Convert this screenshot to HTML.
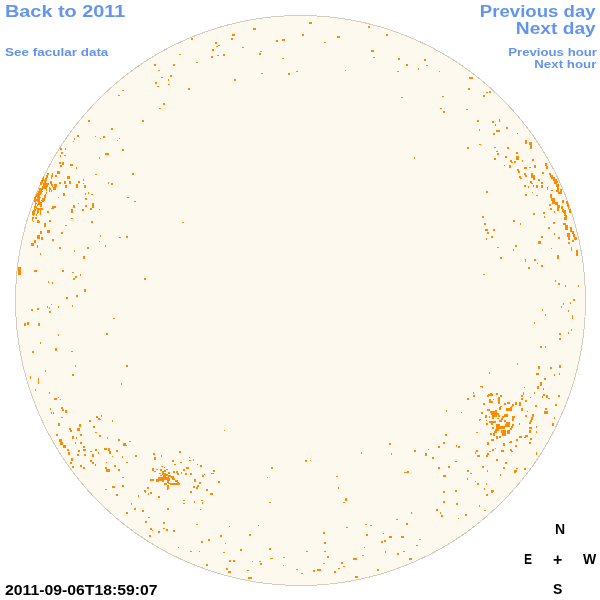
<!DOCTYPE html>
<html><head><meta charset="utf-8">
<style>
html,body{margin:0;padding:0;background:#fff;width:600px;height:600px;overflow:hidden;}
body{position:relative;font-family:"Liberation Sans",sans-serif;font-weight:bold;}
.t{position:absolute;white-space:nowrap;line-height:1;will-change:transform;}
.b{color:#6495ed;}
.k{color:#000;}
svg{position:absolute;left:0;top:0;}
</style></head><body>
<svg width="600" height="600" viewBox="0 0 600 600">
<circle cx="300.5" cy="300.5" r="285" fill="#fef9ee" stroke="#d3cdc1" stroke-width="1" shape-rendering="crispEdges"/>
<path fill="#ff8c00" shape-rendering="crispEdges" d="M191 38h2v2h-2zM179 54h2v1h-2zM196 62h2v1h-2zM154 64h2v2h-2zM173 64h2v2h-2zM158 70h2v1h-2zM170 75h2v2h-2zM161 77h2v1h-2zM168 79h1v2h-1zM155 82h2v2h-2zM168 84h2v1h-2zM157 86h2v1h-2zM188 88h2v2h-2zM122 90h2v1h-2zM118 95h2v1h-2zM253 28h3v2h-3zM232 34h3v2h-3zM231 38h2v2h-2zM276 40h2v2h-2zM282 39h3v2h-3zM215 42h2v2h-2zM218 45h2v1h-2zM216 46h2v1h-2zM242 47h2v1h-2zM212 49h2v2h-2zM260 51h2v1h-2zM259 53h2v2h-2zM217 55h2v1h-2zM223 54h2v2h-2zM211 56h2v2h-2zM282 58h2v1h-2zM261 73h2v1h-2zM288 73h2v2h-2zM296 71h2v1h-2zM234 79h2v2h-2zM309 22h3v2h-3zM302 34h2v2h-2zM337 36h3v2h-3zM324 42h2v1h-2zM368 26h2v2h-2zM386 34h2v2h-2zM371 50h3v2h-3zM373 57h2v1h-2zM398 58h2v2h-2zM345 70h1v1h-1zM397 71h2v1h-2zM406 64h2v2h-2zM424 59h2v2h-2zM426 65h2v1h-2zM418 68h1v2h-1zM439 71h1v1h-1zM469 77h4v2h-4zM468 88h2v2h-2zM489 91h2v2h-2zM486 92h2v1h-2zM483 95h2v2h-2zM442 96h2v1h-2zM401 97h2v1h-2zM88 120h2v2h-2zM95 136h1v1h-1zM77 135h2v2h-2zM74 138h1v2h-1zM73 141h1v1h-1zM60 148h2v2h-2zM65 148h1v2h-1zM61 152h2v2h-2zM60 155h1v2h-1zM64 155h2v1h-2zM99 157h1v2h-1zM59 162h2v2h-2zM62 162h2v3h-2zM60 165h2v2h-2zM70 164h3v2h-3zM76 167h1v2h-1zM57 171h3v3h-3zM95 174h2v1h-2zM55 175h2v2h-2zM67 176h3v3h-3zM83 179h1v2h-1zM64 181h2v3h-2zM69 181h2v3h-2zM78 181h2v2h-2zM83 183h1v1h-1zM59 182h2v2h-2zM65 185h2v3h-2zM76 184h2v4h-2zM84 185h2v3h-2zM47 173h2v1h-2zM52 173h1v1h-1zM47 174h2v1h-2zM52 174h1v1h-1zM46 175h2v1h-2zM51 175h2v1h-2zM43 176h1v1h-1zM46 176h2v1h-2zM51 176h2v1h-2zM43 177h1v1h-1zM46 177h2v1h-2zM51 177h1v1h-1zM42 178h2v1h-2zM45 178h2v1h-2zM51 178h1v1h-1zM42 179h2v1h-2zM45 179h2v1h-2zM41 180h6v1h-6zM41 181h2v1h-2zM44 181h2v1h-2zM50 181h2v1h-2zM40 182h3v1h-3zM44 182h2v1h-2zM50 182h2v1h-2zM40 183h2v1h-2zM43 183h6v1h-6zM50 183h2v1h-2zM40 184h2v1h-2zM43 184h6v1h-6zM51 184h2v1h-2zM54 184h1v1h-1zM51 185h2v1h-2zM54 185h1v1h-1zM42 186h6v1h-6zM52 186h1v1h-1zM54 186h1v1h-1zM49 187h1v1h-1zM53 187h2v1h-2zM39 188h7v1h-7zM46 188h1v1h-1zM49 188h2v1h-2zM53 188h2v1h-2zM46 189h1v1h-1zM49 189h2v1h-2zM53 189h1v1h-1zM49 190h1v1h-1zM51 190h1v1h-1zM38 191h5v1h-5zM49 191h1v1h-1zM51 191h1v1h-1zM38 192h4v1h-4zM46 192h1v1h-1zM37 193h5v1h-5zM46 193h1v1h-1zM36 194h5v1h-5zM45 194h1v1h-1zM36 195h4v1h-4zM44 195h2v1h-2zM35 196h5v1h-5zM44 196h2v1h-2zM34 197h2v1h-2zM37 197h4v1h-4zM44 197h2v1h-2zM34 198h2v1h-2zM37 198h3v1h-3zM42 198h3v1h-3zM34 199h6v1h-6zM42 199h3v1h-3zM34 200h6v1h-6zM41 200h4v1h-4zM34 201h2v1h-2zM37 201h3v1h-3zM42 201h2v1h-2zM35 202h1v1h-1zM38 202h4v1h-4zM35 203h2v1h-2zM38 203h4v1h-4zM35 204h1v1h-1zM37 204h3v1h-3zM40 204h2v1h-2zM35 205h1v1h-1zM37 205h1v1h-1zM40 205h2v1h-2zM34 206h3v1h-3zM40 206h2v1h-2zM34 207h3v1h-3zM34 208h1v1h-1zM36 208h7v1h-7zM34 209h2v1h-2zM37 209h6v1h-6zM33 210h3v1h-3zM37 210h2v1h-2zM40 210h1v1h-1zM32 211h3v1h-3zM37 211h2v1h-2zM40 211h1v1h-1zM47 211h2v1h-2zM32 212h3v1h-3zM37 212h2v1h-2zM40 212h1v1h-1zM47 212h2v1h-2zM32 213h3v1h-3zM37 213h1v1h-1zM40 213h1v1h-1zM32 214h3v1h-3zM36 214h1v1h-1zM40 214h1v1h-1zM33 215h1v1h-1zM36 215h1v1h-1zM32 217h2v1h-2zM35 217h2v1h-2zM32 218h2v1h-2zM35 218h2v1h-2zM32 219h1v1h-1zM32 220h1v1h-1zM37 220h2v1h-2zM49 220h1v1h-1zM73 205h2v3h-2zM78 203h1v1h-1zM71 209h2v4h-2zM85 205h2v2h-2zM82 209h2v2h-2zM92 203h2v5h-2zM90 208h2v2h-2zM71 218h2v1h-2zM49 220h2v2h-2zM44 223h2v4h-2zM37 221h3v2h-3zM33 221h1v1h-1zM65 225h2v1h-2zM91 221h2v2h-2zM47 230h3v3h-3zM61 232h2v2h-2zM40 231h2v3h-2zM37 235h3v4h-3zM41 237h2v3h-2zM52 239h2v2h-2zM34 240h2v3h-2zM31 243h3v3h-3zM37 245h1v3h-1zM59 247h2v2h-2zM74 250h1v2h-1zM87 247h2v2h-2zM99 241h1v1h-1zM40 253h1v2h-1zM83 256h2v3h-2zM18 267h3v8h-3zM34 270h3v2h-3zM62 270h2v2h-2zM72 272h2v1h-2zM75 276h2v2h-2zM73 278h2v2h-2zM80 274h1v2h-1zM48 281h1v2h-1zM52 282h1v2h-1zM84 289h2v3h-2zM76 295h2v2h-2zM66 297h2v2h-2zM55 184h2v3h-2zM54 187h2v3h-2zM63 193h2v3h-2zM58 197h1v1h-1zM85 193h1v2h-1zM88 192h1v2h-1zM91 194h2v1h-2zM85 198h2v2h-2zM52 206h4v2h-4zM51 208h3v1h-3zM99 209h1v1h-1zM163 103h2v2h-2zM159 108h2v1h-2zM142 120h2v2h-2zM111 128h2v2h-2zM103 136h2v2h-2zM100 138h1v1h-1zM119 138h1v1h-1zM117 140h1v1h-1zM122 149h2v2h-2zM105 153h4v2h-4zM132 173h2v2h-2zM108 182h1v2h-1zM111 183h2v2h-2zM127 197h2v1h-2zM440 108h2v1h-2zM443 111h2v2h-2zM466 109h2v1h-2zM477 120h2v2h-2zM492 121h2v2h-2zM499 119h1v3h-1zM495 124h1v2h-1zM479 129h1v2h-1zM496 130h4v2h-4zM493 133h2v2h-2zM479 144h2v1h-2zM467 147h2v2h-2zM494 147h2v1h-2zM496 151h2v1h-2zM497 153h2v2h-2zM494 158h2v2h-2zM414 157h1v2h-1zM486 191h2v2h-2zM506 127h2v2h-2zM517 133h1v1h-1zM525 140h2v4h-2zM529 142h3v3h-3zM530 145h2v4h-2zM507 147h2v2h-2zM516 152h2v2h-2zM516 156h3v4h-3zM505 156h2v2h-2zM510 160h2v2h-2zM511 162h2v1h-2zM514 161h2v2h-2zM522 160h1v2h-1zM532 159h2v2h-2zM504 165h1v1h-1zM509 165h2v3h-2zM517 169h2v2h-2zM518 171h2v2h-2zM524 167h3v2h-3zM529 167h2v1h-2zM534 165h2v3h-2zM545 163h2v3h-2zM546 166h2v3h-2zM524 173h2v2h-2zM525 175h2v2h-2zM519 176h2v2h-2zM520 178h2v1h-2zM531 173h2v2h-2zM531 175h4v3h-4zM533 178h2v2h-2zM542 172h2v2h-2zM549 173h2v2h-2zM550 175h3v2h-3zM551 177h4v2h-4zM553 179h4v2h-4zM554 181h4v2h-4zM554 183h3v1h-3zM538 179h2v2h-2zM530 181h2v2h-2zM531 183h2v1h-2zM541 182h2v2h-2zM524 185h2v2h-2zM528 186h1v2h-1zM533 185h1v2h-1zM536 185h2v3h-2zM541 185h2v3h-2zM547 187h1v3h-1zM556 184h3v3h-3zM557 187h2v3h-2zM556 190h3v2h-3zM558 192h2v2h-2zM560 189h2v3h-2zM551 190h2v1h-2zM532 192h1v1h-1zM525 194h2v2h-2zM536 195h2v1h-2zM560 192h2v2h-2zM550 194h2v4h-2zM551 198h4v3h-4zM552 201h3v3h-3zM549 204h2v2h-2zM555 202h3v3h-3zM557 205h3v3h-3zM550 208h2v2h-2zM557 208h2v3h-2zM554 211h1v2h-1zM561 206h2v3h-2zM562 209h2v3h-2zM563 210h3v3h-3zM564 213h2v3h-2zM565 215h2v2h-2zM564 217h3v3h-3zM562 200h2v3h-2zM566 201h2v3h-2zM567 204h2v3h-2zM568 207h1v2h-1zM569 209h2v4h-2zM543 212h2v2h-2zM544 216h1v2h-1zM553 222h2v2h-2zM563 223h3v2h-3zM565 225h3v5h-3zM548 227h2v2h-2zM570 227h2v5h-2zM567 233h3v4h-3zM572 231h2v3h-2zM573 234h2v3h-2zM574 237h3v3h-3zM568 237h2v3h-2zM554 233h1v2h-1zM541 236h2v2h-2zM558 237h2v2h-2zM533 213h2v2h-2zM513 220h2v2h-2zM520 223h1v2h-1zM538 241h3v3h-3zM515 245h2v2h-2zM513 249h1v2h-1zM551 248h1v1h-1zM500 257h2v2h-2zM525 259h1v3h-1zM534 259h2v2h-2zM537 263h1v1h-1zM541 265h2v2h-2zM528 267h2v2h-2zM557 255h2v4h-2zM568 242h2v2h-2zM572 240h2v2h-2zM571 247h1v4h-1zM576 250h2v6h-2zM555 280h1v2h-1zM558 283h2v2h-2zM565 285h1v2h-1zM578 285h1v2h-1zM573 299h2v1h-2zM134 201h2v1h-2zM182 222h2v1h-2zM100 235h1v2h-1zM119 237h2v1h-2zM126 236h2v2h-2zM105 245h1v2h-1zM144 278h2v2h-2zM224 430h1v1h-1zM482 216h2v2h-2zM484 223h2v2h-2zM485 229h3v2h-3zM487 232h2v2h-2zM493 229h2v2h-2zM491 236h2v2h-2zM486 238h1v2h-1zM497 247h2v1h-2zM483 274h2v1h-2zM573 299h2v2h-2zM570 302h1v2h-1zM563 303h1v2h-1zM561 306h1v2h-1zM542 309h1v2h-1zM568 310h1v2h-1zM545 314h1v2h-1zM572 315h1v4h-1zM534 322h1v2h-1zM571 329h1v2h-1zM568 332h1v2h-1zM559 333h2v2h-2zM559 338h2v2h-2zM540 346h2v2h-2zM545 346h1v2h-1zM517 363h1v2h-1zM538 366h2v3h-2zM550 367h2v2h-2zM559 365h2v3h-2zM536 373h3v2h-3zM554 374h1v2h-1zM559 373h1v2h-1zM544 378h2v2h-2zM524 387h1v1h-1zM543 388h1v2h-1zM489 372h1v2h-1zM480 386h3v1h-3zM482 387h1v1h-1zM473 392h1v2h-1zM473 395h2v2h-2zM467 398h2v2h-2zM490 393h2v1h-2zM488 394h5v2h-5zM487 395h2v2h-2zM496 393h2v2h-2zM500 395h2v2h-2zM489 399h2v2h-2zM489 401h4v2h-4zM493 399h1v1h-1zM498 397h2v7h-2zM483 403h2v2h-2zM504 403h2v2h-2zM507 402h3v2h-3zM500 406h2v1h-2zM499 407h2v3h-2zM506 408h4v3h-4zM487 409h3v2h-3zM481 412h2v2h-2zM461 412h1v1h-1zM495 410h2v2h-2zM490 411h7v2h-7zM491 413h8v2h-8zM492 415h5v2h-5zM485 415h2v3h-2zM489 416h1v2h-1zM492 416h2v3h-2zM498 415h2v2h-2zM504 414h4v3h-4zM502 416h2v2h-2zM479 419h2v1h-2zM497 418h2v1h-2zM501 418h2v2h-2zM540 382h2v4h-2zM537 386h2v3h-2zM523 392h1v3h-1zM534 392h1v2h-1zM521 395h2v2h-2zM530 397h1v1h-1zM543 394h2v2h-2zM542 396h1v2h-1zM546 395h2v3h-2zM548 398h2v1h-2zM558 395h2v2h-2zM521 398h2v2h-2zM525 400h2v2h-2zM515 402h2v3h-2zM519 402h2v4h-2zM512 404h2v2h-2zM511 406h2v1h-2zM510 407h2v4h-2zM535 405h2v2h-2zM555 404h2v2h-2zM521 408h2v3h-2zM527 411h1v1h-1zM545 408h2v2h-2zM544 411h4v3h-4zM525 415h2v2h-2zM532 414h2v3h-2zM531 417h2v3h-2zM512 416h3v2h-3zM512 418h2v2h-2zM554 417h1v2h-1zM479 420h1v1h-1zM486 420h1v1h-1zM489 421h7v2h-7zM491 423h2v2h-2zM486 423h2v2h-2zM499 420h3v2h-3zM504 420h2v2h-2zM496 424h4v2h-4zM496 426h9v3h-9zM505 424h5v3h-5zM506 422h4v3h-4zM495 429h4v2h-4zM494 431h3v2h-3zM493 433h2v2h-2zM501 430h5v3h-5zM502 433h4v3h-4zM507 430h3v4h-3zM499 436h2v2h-2zM496 436h2v3h-2zM492 427h2v2h-2zM490 433h2v2h-2zM493 434h2v2h-2zM491 439h3v2h-3zM476 432h2v1h-2zM487 442h2v3h-2zM503 443h2v3h-2zM509 442h1v1h-1zM492 449h2v2h-2zM495 448h1v1h-1zM489 451h2v1h-2zM501 450h3v2h-3zM487 453h2v2h-2zM486 455h2v2h-2zM476 450h2v2h-2zM475 452h1v2h-1zM477 455h3v2h-3zM496 459h2v2h-2zM505 462h2v2h-2zM482 466h2v2h-2zM503 467h2v2h-2zM512 420h2v1h-2zM530 420h2v2h-2zM529 422h2v2h-2zM519 423h1v2h-1zM512 424h2v2h-2zM511 426h2v2h-2zM510 428h2v2h-2zM552 423h2v3h-2zM529 427h3v2h-3zM536 426h1v2h-1zM529 430h2v3h-2zM536 431h1v2h-1zM519 436h3v2h-3zM525 435h3v2h-3zM524 437h2v1h-2zM516 439h2v2h-2zM530 438h2v2h-2zM510 441h2v2h-2zM529 442h2v2h-2zM515 445h2v2h-2zM510 449h2v2h-2zM511 451h2v1h-2zM536 452h1v3h-1zM516 468h2v1h-2zM524 468h2v2h-2zM31 309h2v2h-2zM37 308h2v2h-2zM47 306h1v2h-1zM49 307h1v2h-1zM51 304h1v1h-1zM49 311h2v2h-2zM58 306h1v2h-1zM72 305h1v2h-1zM24 323h2v3h-2zM27 322h2v3h-2zM38 323h2v3h-2zM58 334h1v2h-1zM40 342h1v2h-1zM32 351h2v2h-2zM55 348h2v3h-2zM71 351h2v1h-2zM75 365h1v2h-1zM45 370h1v2h-1zM72 374h2v2h-2zM30 376h1v3h-1zM38 378h1v6h-1zM35 389h1v2h-1zM49 392h1v2h-1zM113 318h2v1h-2zM106 333h2v2h-2zM126 365h2v2h-2zM121 383h1v2h-1zM54 398h3v2h-3zM58 397h1v1h-1zM60 399h1v1h-1zM50 408h1v2h-1zM51 412h1v2h-1zM53 412h1v2h-1zM61 407h2v2h-2zM62 409h2v2h-2zM65 410h2v3h-2zM61 417h2v1h-2zM58 423h2v3h-2zM69 428h2v2h-2zM70 430h2v2h-2zM77 428h3v3h-3zM79 424h2v3h-2zM80 434h2v2h-2zM89 420h2v2h-2zM93 426h2v2h-2zM96 416h2v2h-2zM98 418h2v2h-2zM100 419h1v1h-1zM101 415h1v2h-1zM112 420h1v2h-1zM95 432h2v1h-2zM99 435h2v2h-2zM107 437h1v2h-1zM118 439h2v2h-2zM56 434h2v2h-2zM72 436h2v3h-2zM76 437h1v2h-1zM59 439h3v3h-3zM60 442h3v3h-3zM63 445h3v3h-3zM75 442h1v2h-1zM80 442h2v2h-2zM83 446h2v2h-2zM83 449h3v2h-3zM78 450h2v2h-2zM67 449h2v2h-2zM68 452h2v3h-2zM77 454h2v2h-2zM84 454h2v2h-2zM90 451h2v1h-2zM95 449h2v2h-2zM98 452h1v2h-1zM104 448h3v2h-3zM108 448h2v3h-2zM109 451h2v3h-2zM116 450h2v2h-2zM112 456h1v1h-1zM92 454h2v3h-2zM90 460h2v2h-2zM92 462h2v2h-2zM106 462h1v1h-1zM71 458h2v3h-2zM70 462h2v2h-2zM72 466h2v2h-2zM80 465h2v2h-2zM83 467h2v2h-2zM95 464h1v2h-1zM114 465h2v2h-2zM105 467h2v2h-2zM106 469h4v3h-4zM118 469h2v2h-2zM112 486h3v2h-3zM105 489h2v1h-2zM172 460h2v2h-2zM174 464h2v1h-2zM161 466h2v1h-2zM164 467h1v1h-1zM152 468h2v3h-2zM156 469h2v1h-2zM154 471h2v1h-2zM160 469h2v2h-2zM166 469h2v1h-2zM164 470h2v2h-2zM162 471h2v2h-2zM168 472h2v2h-2zM159 473h2v1h-2zM173 471h2v2h-2zM176 471h2v2h-2zM177 473h2v2h-2zM162 473h4v2h-4zM163 475h3v2h-3zM166 474h2v2h-2zM160 475h2v1h-2zM168 475h3v2h-3zM171 476h3v2h-3zM158 477h4v2h-4zM162 477h7v3h-7zM168 478h2v3h-2zM172 478h3v2h-3zM175 480h3v2h-3zM177 482h2v1h-2zM156 479h3v3h-3zM159 479h3v2h-3zM162 480h2v2h-2zM150 479h4v2h-4zM167 480h2v3h-2zM164 483h3v2h-3zM168 483h12v1h-12zM170 484h10v1h-10zM167 485h2v4h-2zM167 489h1v1h-1zM147 487h2v2h-2zM145 491h1v2h-1zM148 493h1v2h-1zM150 492h2v2h-2zM123 443h3v2h-3zM123 445h4v1h-4zM129 441h2v1h-2zM122 456h1v2h-1zM135 455h2v2h-2zM126 462h2v1h-2zM153 453h2v2h-2zM154 457h2v3h-2zM161 455h1v2h-1zM179 451h2v2h-2zM180 462h2v1h-2zM189 457h1v1h-1zM193 459h1v2h-1zM189 460h2v1h-2zM197 464h1v1h-1zM200 465h2v2h-2zM186 467h3v2h-3zM183 469h2v2h-2zM185 473h2v2h-2zM190 473h2v2h-2zM181 472h1v2h-1zM202 475h2v2h-2zM213 470h2v2h-2zM211 473h3v1h-3zM194 479h2v3h-2zM199 482h2v2h-2zM197 485h2v2h-2zM196 487h2v2h-2zM193 486h2v2h-2zM218 481h2v2h-2zM206 489h2v2h-2zM190 491h2v2h-2zM210 493h3v2h-3zM158 496h2v2h-2zM144 490h2v2h-2zM138 495h1v2h-1zM122 477h2v1h-2zM122 485h2v2h-2zM204 474h1v1h-1zM201 500h2v1h-2zM202 502h1v2h-1zM200 509h1v1h-1zM271 467h2v2h-2zM267 477h1v1h-1zM269 502h2v1h-2zM229 526h1v1h-1zM258 525h1v1h-1zM220 535h2v2h-2zM249 534h2v2h-2zM208 539h2v1h-2zM116 494h2v2h-2zM183 500h2v1h-2zM183 503h2v1h-2zM194 501h1v2h-1zM131 503h1v2h-1zM134 508h2v2h-2zM142 510h2v2h-2zM126 512h2v2h-2zM167 508h2v2h-2zM148 517h2v1h-2zM145 521h2v2h-2zM163 522h2v2h-2zM196 524h2v1h-2zM150 528h2v2h-2zM152 530h1v1h-1zM163 528h2v1h-2zM166 529h2v2h-2zM173 530h2v2h-2zM158 531h2v2h-2zM149 535h2v2h-2zM178 547h1v1h-1zM190 551h2v1h-2zM199 551h1v1h-1zM208 539h2v2h-2zM201 541h2v2h-2zM225 543h1v1h-1zM240 549h2v2h-2zM269 548h2v2h-2zM223 552h2v1h-2zM270 558h3v1h-3zM283 557h2v1h-2zM229 560h2v2h-2zM233 560h2v2h-2zM252 561h1v1h-1zM259 561h2v1h-2zM260 563h2v2h-2zM283 565h1v1h-1zM296 569h2v1h-2zM206 564h2v2h-2zM226 568h2v2h-2zM228 571h3v2h-3zM247 570h2v1h-2zM248 577h4v2h-4zM338 487h1v2h-1zM345 498h2v3h-2zM343 502h2v1h-2zM396 519h2v1h-2zM365 524h2v1h-2zM370 525h2v1h-2zM346 527h2v1h-2zM323 532h2v2h-2zM366 534h2v2h-2zM383 533h1v1h-1zM389 536h3v2h-3zM384 540h2v2h-2zM381 541h2v2h-2zM324 542h2v2h-2zM364 547h1v1h-1zM306 551h2v1h-2zM324 551h2v1h-2zM385 551h1v2h-1zM397 553h2v2h-2zM362 555h2v1h-2zM327 556h2v2h-2zM353 558h4v2h-4zM323 563h2v1h-2zM341 562h2v2h-2zM343 566h2v1h-2zM338 568h2v1h-2zM317 569h4v2h-4zM313 570h2v2h-2zM334 571h2v2h-2zM301 573h2v1h-2zM377 569h2v2h-2zM355 576h3v2h-3zM389 443h2v2h-2zM391 453h1v2h-1zM414 450h2v2h-2zM425 453h2v3h-2zM428 449h1v1h-1zM432 457h2v2h-2zM438 446h2v2h-2zM443 442h2v2h-2zM456 445h1v2h-1zM458 446h2v2h-2zM455 461h2v1h-2zM438 467h2v2h-2zM448 466h2v2h-2zM404 472h3v1h-3zM407 471h2v2h-2zM443 475h3v2h-3zM467 470h2v2h-2zM470 473h2v1h-2zM467 478h1v2h-1zM475 481h1v1h-1zM477 483h2v2h-2zM443 491h2v2h-2zM455 490h2v2h-2zM443 501h2v2h-2zM456 503h2v2h-2zM479 505h1v2h-1zM436 509h2v2h-2zM440 512h1v2h-1zM441 515h2v2h-2zM465 514h2v2h-2zM458 518h1v1h-1zM411 512h1v2h-1zM406 523h2v2h-2zM401 536h3v2h-3zM419 539h2v1h-2zM416 545h2v1h-2zM403 551h2v1h-2zM409 558h3v2h-3zM446 410h1v2h-1zM445 434h2v2h-2zM487 470h1v2h-1zM486 483h1v2h-1zM484 488h1v2h-1zM491 490h3v2h-3zM491 492h2v1h-2zM486 494h2v2h-2zM500 474h1v2h-1zM514 470h3v2h-3zM514 472h2v1h-2zM484 510h2v1h-2zM305 460h2v2h-2zM310 460h1v1h-1zM361 452h1v2h-1zM336 476h2v1h-2zM39 189h4v1h-4zM46 190h1v1h-1zM39 190h3v1h-3zM43 185h5v1h-5zM42 187h5v1h-5z"/>
</svg>
<div class="t b" style="left:5px;top:4px;font-size:16px;transform:scaleX(1.24);transform-origin:0 0;">Back to 2011</div>
<div class="t b" style="left:5px;top:47px;font-size:11px;transform:scaleX(1.225);transform-origin:0 0;">See facular data</div>
<div class="t b" style="right:4px;top:4px;font-size:16px;transform:scaleX(1.162);transform-origin:100% 0;">Previous day</div>
<div class="t b" style="right:4px;top:21px;font-size:16px;transform:scaleX(1.197);transform-origin:100% 0;">Next day</div>
<div class="t b" style="right:3px;top:47px;font-size:11px;transform:scaleX(1.2);transform-origin:100% 0;">Previous hour</div>
<div class="t b" style="right:4px;top:59px;font-size:11px;transform:scaleX(1.21);transform-origin:100% 0;">Next hour</div>
<div class="t k" style="left:555px;top:522px;font-size:14px;">N</div>
<div class="t k" style="left:524px;top:552px;font-size:14px;transform:scaleX(0.85);transform-origin:0 0;">E</div>
<div class="t k" style="left:553px;top:552px;font-size:16px;">+</div>
<div class="t k" style="left:583px;top:552px;font-size:14px;">W</div>
<div class="t k" style="left:553px;top:582px;font-size:14px;transform:scaleX(0.95);transform-origin:0 0;">S</div>
<div class="t k" style="left:5px;top:583px;font-size:14px;transform:scaleX(1.126);transform-origin:0 0;">2011-09-06T18:59:07</div>
</body></html>
